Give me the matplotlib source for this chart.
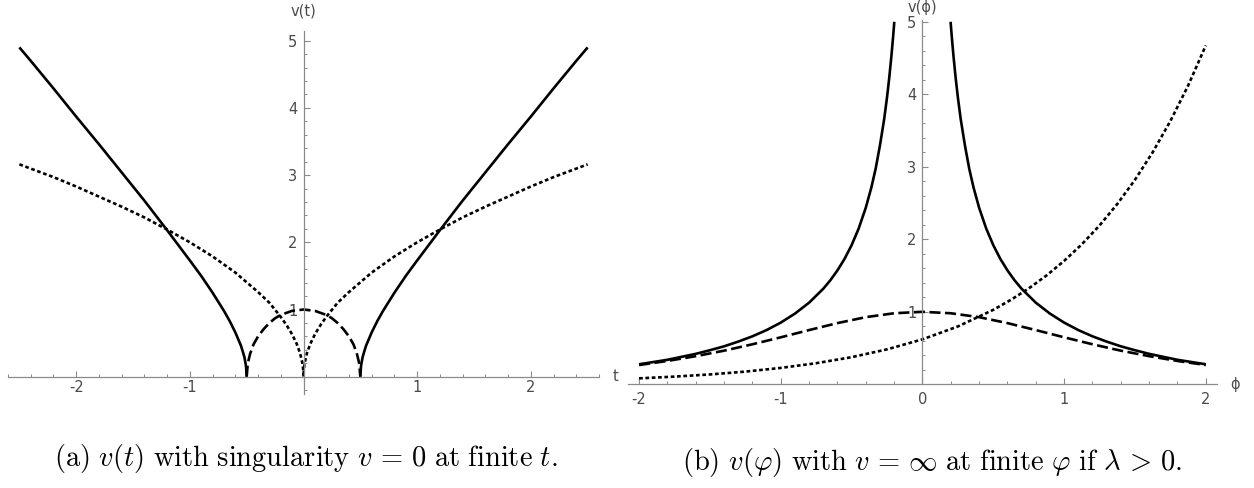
import matplotlib
matplotlib.use("Agg")
import matplotlib.pyplot as plt
from matplotlib.ticker import MultipleLocator, FixedLocator

plt.rcParams['mathtext.fontset'] = 'cm'
plt.rcParams['font.family'] = ['DejaVu Sans']

# ---------------- panel (a) data: v(t) ----------------
t_solid_left = [-2.5, -2.4, -2.2, -2.0, -1.8, -1.6, -1.4, -1.2, -1.0, -0.9, -0.8,
                -0.7, -0.65, -0.6, -0.55, -0.53, -0.52, -0.51, -0.505, -0.5]
v_solid_left = [4.90, 4.70, 4.29, 3.87, 3.46, 3.04, 2.62, 2.18, 1.73, 1.50, 1.25,
                0.98, 0.83, 0.66, 0.46, 0.35, 0.29, 0.20, 0.14, 0.0]
t_solid_right = [0.5, 0.505, 0.51, 0.52, 0.53, 0.55, 0.6, 0.65, 0.7, 0.8, 0.9,
                 1.0, 1.2, 1.4, 1.6, 1.8, 2.0, 2.2, 2.4, 2.5]
v_solid_right = [0.0, 0.14, 0.20, 0.29, 0.35, 0.46, 0.66, 0.83, 0.98, 1.25, 1.50,
                 1.73, 2.18, 2.62, 3.04, 3.46, 3.87, 4.29, 4.70, 4.90]

t_dotted = [-2.5, -2.2, -2.0, -1.8, -1.6, -1.4, -1.2, -1.0, -0.8, -0.6, -0.4, -0.3,
            -0.2, -0.15, -0.1, -0.06, -0.03, -0.01, -0.003, 0.0,
            0.003, 0.01, 0.03, 0.06, 0.1, 0.15, 0.2, 0.3, 0.4, 0.6, 0.8, 1.0,
            1.2, 1.4, 1.6, 1.8, 2.0, 2.2, 2.5]
v_dotted = [3.16, 2.97, 2.83, 2.68, 2.53, 2.37, 2.19, 2.00, 1.79, 1.55, 1.26, 1.10,
            0.89, 0.77, 0.63, 0.49, 0.35, 0.20, 0.11, 0.0,
            0.11, 0.20, 0.35, 0.49, 0.63, 0.77, 0.89, 1.10, 1.26, 1.55, 1.79, 2.00,
            2.19, 2.37, 2.53, 2.68, 2.83, 2.97, 3.16]

t_dashed = [-0.5, -0.49, -0.47, -0.44, -0.4, -0.35, -0.3, -0.25, -0.2, -0.1, 0.0,
            0.1, 0.2, 0.25, 0.3, 0.35, 0.4, 0.44, 0.47, 0.49, 0.5]
v_dashed = [0.0, 0.20, 0.34, 0.48, 0.60, 0.71, 0.80, 0.87, 0.92, 0.98, 1.00,
            0.98, 0.92, 0.87, 0.80, 0.71, 0.60, 0.48, 0.34, 0.20, 0.0]

a_xticks = [-2, -1, 1, 2]
a_xticklabels = ['-2', '-1', '1', '2']
a_yticks = [1, 2, 3, 4, 5]
a_yticklabels = ['1', '2', '3', '4', '5']

# ---------------- panel (b) data: v(phi) ----------------
p_solid_left = [-2.0, -1.8, -1.6, -1.5, -1.4, -1.3, -1.2, -1.1, -1.0, -0.9, -0.8,
                -0.7, -0.65, -0.6, -0.55, -0.5, -0.45, -0.4, -0.36, -0.33, -0.3,
                -0.27, -0.25, -0.235, -0.22, -0.21, -0.205, -0.2, -0.199]
v_solid_left_b = [0.276, 0.338, 0.420, 0.470, 0.524, 0.589, 0.662, 0.748, 0.851,
                  0.975, 1.126, 1.318, 1.435, 1.571, 1.729, 1.919, 2.149, 2.435,
                  2.719, 2.976, 3.294, 3.659, 3.959, 4.216, 4.509, 4.727, 4.844,
                  4.967, 5.0]
p_solid_right = [0.199, 0.2, 0.205, 0.21, 0.22, 0.235, 0.25, 0.27, 0.3, 0.33, 0.36,
                 0.4, 0.45, 0.5, 0.55, 0.6, 0.65, 0.7, 0.8, 0.9, 1.0, 1.1, 1.2,
                 1.3, 1.4, 1.5, 1.6, 1.8, 2.0]
v_solid_right_b = [5.0, 4.967, 4.844, 4.727, 4.509, 4.216, 3.959, 3.659, 3.294,
                   2.976, 2.719, 2.435, 2.149, 1.919, 1.729, 1.571, 1.435, 1.318,
                   1.126, 0.975, 0.851, 0.748, 0.662, 0.589, 0.524, 0.470, 0.420,
                   0.338, 0.276]

p_dashed = [-2.0, -1.8, -1.6, -1.4, -1.2, -1.0, -0.8, -0.6, -0.4, -0.2, 0.0,
            0.2, 0.4, 0.6, 0.8, 1.0, 1.2, 1.4, 1.6, 1.8, 2.0]
v_dashed_b = [0.266, 0.322, 0.388, 0.464, 0.552, 0.648, 0.748, 0.844, 0.926, 0.980, 1.0,
              0.980, 0.926, 0.844, 0.748, 0.648, 0.552, 0.464, 0.388, 0.322, 0.266]

p_dotted = [-2.0, -1.75, -1.5, -1.25, -1.0, -0.75, -0.5, -0.25, 0.0,
            0.25, 0.5, 0.625, 0.75, 0.875, 1.0, 1.125, 1.25, 1.375, 1.5,
            1.625, 1.75, 1.875, 2.0]
v_dotted_b = [0.082, 0.106, 0.136, 0.175, 0.226, 0.291, 0.374, 0.482, 0.62,
              0.798, 1.027, 1.166, 1.322, 1.500, 1.702, 1.931, 2.191, 2.486, 2.820,
              3.200, 3.631, 4.119, 4.674]

b_xticks = [-2, -1, 0, 1, 2]
b_xticklabels = ['-2', '-1', '0', '1', '2']
b_yticks = [1, 2, 3, 4, 5]
b_yticklabels = ['1', '2', '3', '4', '5']

caption_a = r"$\mathrm{(a)}\ v(t)\ \mathrm{with\ singularity}\ v\,=\,0\ \mathrm{at\ finite}\ t.$"
caption_b = r"$\mathrm{(b)}\ v(\varphi)\ \mathrm{with}\ v\,=\,\infty\ \mathrm{at\ finite}\ \varphi\ \mathrm{if}\ \lambda\,>\,0.$"

# ---------------- styles ----------------
LW = 1.9
AXC = '#8a8a8a'
TXC = '#4a4a4a'
TFS = 10.5
solid_kw = dict(color='black', lw=LW, solid_capstyle='butt', solid_joinstyle='round')
dot_kw = dict(color='black', lw=LW, linestyle=(0, (1.4, 1.0)), dash_capstyle='butt')
dash_kw = dict(color='black', lw=LW, linestyle=(0, (4.2, 1.7)), dash_capstyle='butt')


def style_axes(ax, xticks, xlabels, yticks, ylabels, xpad, ypad):
    for s in ('top', 'right'):
        ax.spines[s].set_visible(False)
    ax.spines['left'].set_position(('data', 0))
    ax.spines['bottom'].set_position(('data', 0))
    for s in ('left', 'bottom'):
        ax.spines[s].set_color(AXC)
        ax.spines[s].set_linewidth(0.9)
    ax.xaxis.set_major_locator(FixedLocator(xticks))
    ax.set_xticklabels(xlabels)
    ax.yaxis.set_major_locator(FixedLocator(yticks))
    ax.set_yticklabels(ylabels)
    ax.xaxis.set_minor_locator(MultipleLocator(0.2))
    ax.yaxis.set_minor_locator(MultipleLocator(0.2))
    ax.tick_params(which='major', direction='in', length=4.5, width=0.8,
                   color=AXC, labelcolor=TXC, labelsize=TFS)
    ax.tick_params(which='minor', direction='in', length=2.5, width=0.7, color=AXC)
    ax.tick_params(axis='x', which='major', pad=xpad)
    ax.tick_params(axis='y', which='major', pad=ypad)
    ax.set_facecolor('none')


fig = plt.figure(figsize=(12.54, 4.88), dpi=100)

# ---- panel (a)
ax1 = fig.add_axes([0.00638, 0.1936, 0.4713, 0.7437])
ax1.set_xlim(-2.6, 2.6)
ax1.set_ylim(-0.25, 5.15)
ax1.plot(t_solid_left, v_solid_left, **solid_kw)
ax1.plot(t_solid_right, v_solid_right, **solid_kw)
ax1.plot(t_dotted, v_dotted, **dot_kw)
ax1.plot(t_dashed, v_dashed, **dash_kw)
style_axes(ax1, a_xticks, a_xticklabels, a_yticks, a_yticklabels, 2.5, 4.5)
ax1.text(0, 5.44, 'v(t)', ha='center', va='center', fontsize=TFS, color=TXC, clip_on=False)
ax1.text(2.745, 0, 't', ha='center', va='center', fontsize=TFS, color=TXC, clip_on=False)

# ---- panel (b)
ax2 = fig.add_axes([0.5006, 0.2125, 0.4700, 0.7473])
ax2.set_xlim(-2.08, 2.08)
ax2.set_ylim(0, 5.03)
ax2.plot(p_solid_left, v_solid_left_b, **solid_kw)
ax2.plot(p_solid_right, v_solid_right_b, **solid_kw)
ax2.plot(p_dotted, v_dotted_b, **dot_kw)
ax2.plot(p_dashed, v_dashed_b, **dash_kw)
style_axes(ax2, b_xticks, b_xticklabels, b_yticks, b_yticklabels, 5.5, 4.5)
ax2.text(0, 5.295, 'v(ϕ)', ha='center', va='top', fontsize=TFS, color=TXC, clip_on=False)
ax2.text(2.205, 0, 'ϕ', ha='center', va='center', fontsize=TFS, color=TXC, clip_on=False)

# ---- captions
fig.text(306 / 1254, 1 - 466 / 488, caption_a, ha='center', va='baseline', fontsize=20.5)
fig.text(932 / 1254, 1 - 470 / 488, caption_b, ha='center', va='baseline', fontsize=20.5)

fig.savefig('out.png', dpi=100)
